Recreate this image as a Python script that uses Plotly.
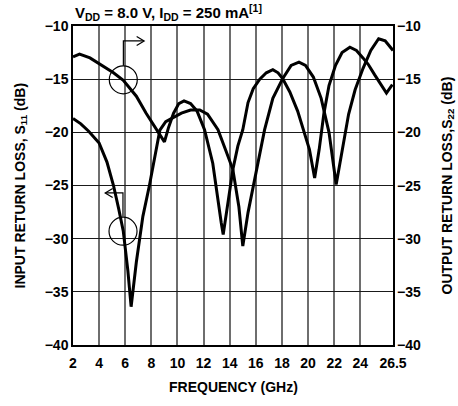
import plotly.graph_objects as go

# ---- data ----
freq_s11 = [2.0, 2.6, 3.2, 4.0, 4.6, 5.1, 5.5, 5.85, 6.2, 6.45, 6.85, 7.35, 7.85, 8.25, 8.65,
            9.1, 9.7, 10.3, 11.0, 11.7, 12.3, 12.7, 13.1, 13.7, 14.24, 14.7, 15.0, 15.4, 16.03,
            16.67, 17.3, 18.05, 18.7, 19.3, 19.8, 20.4, 21.0, 21.6, 22.15, 22.6, 23.1, 23.6,
            24.2, 24.8, 25.4, 25.9, 26.5]
s11_db = [-18.7, -19.2, -19.9, -21.0, -22.8, -25.0, -27.2, -29.3, -33.0, -36.4, -32.2, -27.9,
          -25.0, -22.3, -19.8, -19.0, -18.6, -18.2, -17.9, -17.9, -18.3, -19.0, -19.75, -21.7,
          -23.5, -27.0, -30.7, -27.55, -23.5, -19.75, -16.8, -14.95, -13.7, -13.4, -13.7,
          -14.8, -16.8, -20.0, -24.9, -21.6, -18.3, -16.0, -14.0, -12.3, -11.2, -11.4, -12.3]

freq_s22 = [2.0, 2.5, 3.3, 4.3, 5.1, 5.85, 6.85, 7.6, 8.5, 9.0, 9.3, 9.7, 10.1, 10.5, 11.0,
            11.5, 12.07, 12.7, 13.35, 13.5, 13.75, 14.24, 14.62, 15.0, 15.4, 15.8, 16.3, 16.8,
            17.3, 17.7, 18.05, 18.6, 19.2, 19.7, 20.1, 20.5, 20.85, 21.2, 21.6, 22.1, 22.6,
            23.2, 23.7, 24.2, 24.6, 25.1, 25.6, 26.0, 26.45]
s22_db = [-12.9, -12.65, -13.0, -13.8, -14.4, -15.1, -16.6, -18.2, -20.0, -20.9, -19.6, -18.2,
          -17.3, -17.05, -17.3, -18.0, -19.75, -22.9, -28.5, -29.6, -27.55, -23.5, -21.3,
          -19.75, -17.2, -15.9, -15.0, -14.4, -14.1, -14.4, -14.95, -16.2, -18.0, -19.9, -21.6,
          -24.3, -21.6, -18.3, -15.6, -13.7, -12.5, -12.0, -12.3, -13.0, -13.6, -14.6, -15.6,
          -16.3, -15.5]

x_tickvals = [2, 4, 6, 8, 10, 12, 14, 16, 18, 20, 22, 24, 26.5]
x_ticktext = ["2", "4", "6", "8", "10", "12", "14", "16", "18", "20", "22", "24", "26.5"]
y_tickvals = [-40, -35, -30, -25, -20, -15, -10]
y_ticktext = ["\u221240", "\u221235", "\u221230", "\u221225", "\u221220", "\u221215", "\u221210"]

FONT = "Liberation Sans, Arial, sans-serif"
TICKFONT = dict(size=14, family=FONT, weight="bold", color="black")

fig = go.Figure()
fig.add_trace(go.Scatter(x=freq_s11, y=s11_db, mode="lines",
                         line=dict(color="black", width=3), showlegend=False))
fig.add_trace(go.Scatter(x=freq_s22, y=s22_db, mode="lines", yaxis="y2",
                         line=dict(color="black", width=3), showlegend=False))

W, H = 458, 406
ml, mr, mt, mb = 73, 65, 26, 61

fig.update_layout(
    width=W, height=H,
    margin=dict(l=ml, r=mr, t=mt, b=mb),
    paper_bgcolor="white", plot_bgcolor="white",
    font=dict(family=FONT, color="black", size=14),
    xaxis=dict(range=[2, 26.5], tickvals=x_tickvals, ticktext=x_ticktext,
               showgrid=True, gridcolor="#6e6e6e", gridwidth=1.5,
               showline=True, linecolor="black", linewidth=1.5, mirror=True,
               ticks="", tickfont=TICKFONT, zeroline=False, ticklabelstandoff=4),
    yaxis=dict(range=[-40, -10], tickvals=y_tickvals, ticktext=y_ticktext,
               showgrid=True, gridcolor="#1a1a1a", gridwidth=1,
               showline=True, linecolor="black", linewidth=1.5, mirror=True,
               ticks="", tickfont=TICKFONT, zeroline=False),
    yaxis2=dict(range=[-40, -10], tickvals=y_tickvals, overlaying="y", side="right",
                showgrid=False, ticks="", showticklabels=False,
                zeroline=False, showline=False),
)

# right-axis tick labels
for v, t in zip(y_tickvals, y_ticktext):
    fig.add_annotation(text=t, xref="paper", yref="y2", x=1, y=v, xanchor="left",
                       yanchor="middle", xshift=2, showarrow=False, font=TICKFONT)

def dx(px):
    return 2 + (px - 73.3) / 13.07

def dy(py):
    return -10 - (py - 26) / 10.67

shapes = []
# S22 callout circle (right axis)
shapes.append(dict(type="circle", xref="x", yref="y", xsizemode="pixel", ysizemode="pixel",
                   xanchor=5.85, yanchor=-15.06, x0=-14, x1=14, y0=-14, y1=14,
                   line=dict(color="black", width=1.2)))
# S11 callout circle (left axis)
shapes.append(dict(type="circle", xref="x", yref="y", xsizemode="pixel", ysizemode="pixel",
                   xanchor=5.83, yanchor=-29.3, x0=-14, x1=14, y0=-14, y1=14,
                   line=dict(color="black", width=1.2)))
# right-pointing arrow
shapes.append(dict(type="path", xref="x", yref="y",
                   path=f"M {dx(123.7)},{dy(66)} L {dx(123.7)},{dy(41)} L {dx(144)},{dy(41)}",
                   line=dict(color="black", width=1.2)))
shapes.append(dict(type="path", xref="x", yref="y",
                   path=f"M {dx(137)},{dy(36.5)} L {dx(144.5)},{dy(41)} L {dx(137)},{dy(45.5)}",
                   line=dict(color="black", width=1.2)))
# left-pointing arrow
shapes.append(dict(type="path", xref="x", yref="y",
                   path=f"M {dx(123.3)},{dy(217.5)} L {dx(123.3)},{dy(193.5)} L {dx(106)},{dy(193.5)}",
                   line=dict(color="black", width=1.2)))
shapes.append(dict(type="path", xref="x", yref="y",
                   path=f"M {dx(113)},{dy(189)} L {dx(105.5)},{dy(193.5)} L {dx(113)},{dy(198)}",
                   line=dict(color="black", width=1.2)))
fig.update_layout(shapes=shapes)

# ---- texts ----
fig.add_annotation(text="<b>V<sub>DD</sub> = 8.0 V, I<sub>DD</sub> = 250 mA<sup>[1]</sup></b>",
                   xref="paper", yref="paper", x=0, y=1, xanchor="left", yanchor="bottom",
                   yshift=1, showarrow=False, font=dict(size=15, family=FONT))
fig.add_annotation(text="<b>INPUT RETURN LOSS, S<sub>11</sub> (dB)</b>",
                   xref="paper", yref="paper", x=0, y=0.5, xanchor="center", yanchor="middle",
                   xshift=-ml + 20, textangle=-90, showarrow=False, font=dict(size=14, family=FONT))
fig.add_annotation(text="<b>OUTPUT RETURN LOSS,S<sub>22</sub> (dB)</b>",
                   xref="paper", yref="paper", x=1, y=0.5, xanchor="center", yanchor="middle",
                   xshift=447 - (W - mr), textangle=-90,
                   showarrow=False, font=dict(size=14, family=FONT))
fig.add_annotation(text="<b>FREQUENCY (GHz)</b>",
                   xref="paper", yref="paper", x=0.5, y=0, xanchor="center", yanchor="middle",
                   yshift=-(387 - (H - mb)), showarrow=False, font=dict(size=14, family=FONT))

fig.write_html("out.html")
